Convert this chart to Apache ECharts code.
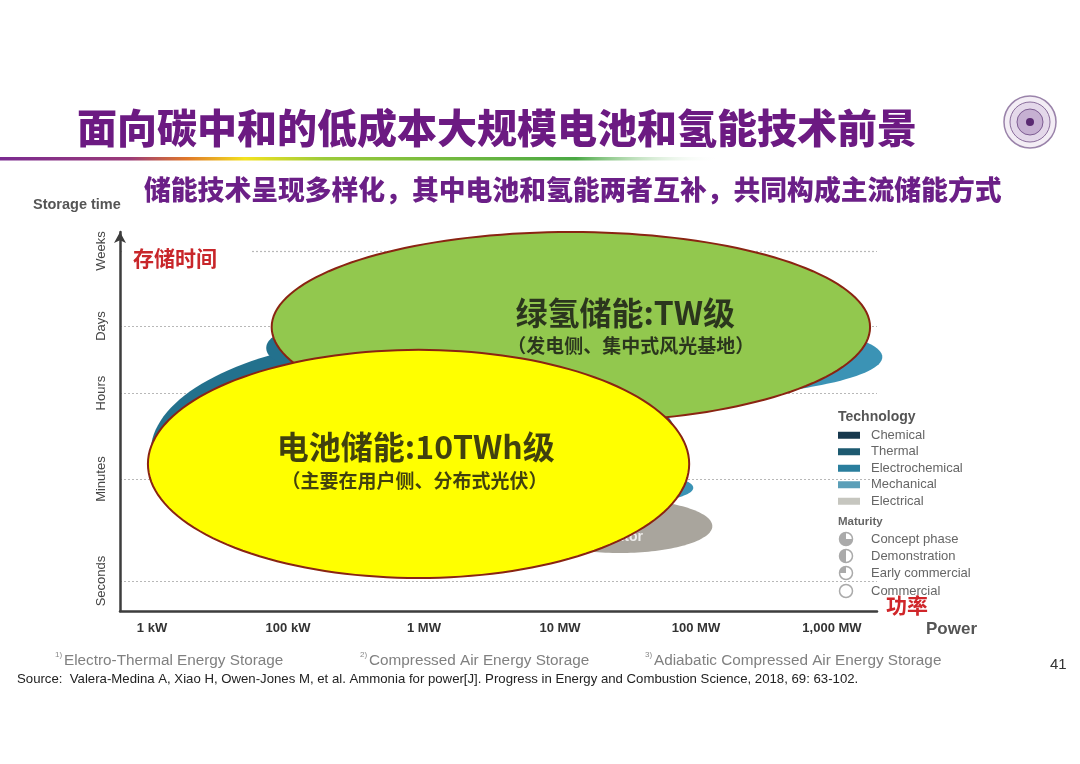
<!DOCTYPE html>
<html>
<head>
<meta charset="utf-8">
<script src="https://cdn.jsdelivr.net/npm/echarts@6/dist/echarts.min.js"></script>
<style>
html,body{margin:0;padding:0;background:#fff;}
#chart{width:1080px;height:764px;}
</style>
</head>
<body>
<div id="chart"></div>
<script>
// ---------- data (axis units: x = power step index, y = storage-time index) ----------
const xTickLabels = ['1 kW', '100 kW', '1 MW', '10 MW', '100 MW', '1,000 MW'];
const xTickValues = [0, 1, 2, 3, 4, 5];
const yTickLabels = ['Seconds', 'Minutes', 'Hours', 'Days', 'Weeks'];
const yTickValues = [7.9, 34.8, 57.5, 75.2, 95.0];

// ellipses: [centerX, centerY, radiusX, radiusY]
const electrochemicalAreas = [[1.94, 41.9, 1.95, 30.6], [1.02, 69.4, 0.18, 4.2]];
const mechanicalAreas = [[3.29, 67.0, 2.08, 11.9], [3.44, 32.5, 0.54, 4.2]];
const electricalAreas = [[3.44, 22.4, 0.68, 7.1]];
const chemicalAreas = [];
const thermalAreas = [];
const hydrogenArea = [[3.08, 74.9, 2.20, 25.1]];
const batteryArea = [[1.96, 38.8, 1.99, 30.1]];

const technologyNames = ['Chemical', 'Thermal', 'Electrochemical', 'Mechanical', 'Electrical'];
const maturityNames = ['Concept phase', 'Demonstration', 'Early commercial', 'Commercial'];

const highlightTexts = ['绿氢储能:TW级', '（发电侧、集中式风光基地）', '电池储能:10TWh级', '（主要在用户侧、分布式光伏）'];
const highlightTextPos = [[3.48, 78.6], [3.52, 69.9], [1.94, 43.3], [1.93, 34.3]];
const hiddenTexts = ['Capacitor'];
const hiddenTextPos = [[3.61, 19.5]];

const footnotes = ['Electro-Thermal Energy Storage', 'Compressed Air Energy Storage', 'Adiabatic Compressed Air Energy Storage'];
const sourceText = 'Source:  Valera-Medina A, Xiao H, Owen-Jones M, et al. Ammonia for power[J]. Progress in Energy and Combustion Science, 2018, 69: 63-102.';

// ---------- rendering ----------
const techColors = {
  Chemical: '#17384d', Thermal: '#1d5a70', Electrochemical: '#23718d',
  Mechanical: '#3b93b5', Electrical: '#a9a59d'
};
const legendColors = {
  Chemical: '#17384d', Thermal: '#1d5a70', Electrochemical: '#2a7e9d',
  Mechanical: '#5b9fb8', Electrical: '#c6c6bf'
};

function ellipseRender(params, api) {
  const c = api.coord([api.value(0), api.value(1)]);
  const s = api.size([api.value(2), api.value(3)]);
  const pts = [];
  const n = 160;
  for (let k = 0; k < n; k++) {
    const t = k / n * Math.PI * 2;
    pts.push([c[0] + s[0] * Math.cos(t), c[1] + s[1] * Math.sin(t)]);
  }
  return { type: 'polygon', shape: { points: pts }, style: api.style() };
}

function ellipseSeries(name, data, color, z, border) {
  const s = {
    name: name, type: 'custom', renderItem: ellipseRender, data: data, z: z,
    encode: { x: 0, y: 1 }, silent: true,
    itemStyle: { color: color }
  };
  if (border) { s.itemStyle.borderColor = border; s.itemStyle.borderWidth = 2; }
  return s;
}

const cjk = '"Noto Sans CJK SC", sans-serif';
const latin = '"Liberation Sans", Arial, sans-serif';
const chart = echarts.init(document.getElementById('chart'));

const maturityGraphics = [];
const matY = [539, 556, 573, 591];
const matSectors = [[0, Math.PI * 1.5], [Math.PI * 0.5, Math.PI * 1.5], [Math.PI, Math.PI * 1.5], null];
maturityNames.forEach((m, i) => {
  maturityGraphics.push({ type: 'circle', shape: { cx: 846, cy: matY[i], r: 6.5 }, style: { fill: '#fff', stroke: '#aaa', lineWidth: 1.5 }, z: 20 });
  if (matSectors[i]) {
    maturityGraphics.push({ type: 'sector', shape: { cx: 846, cy: matY[i], r: 6.5, r0: 0, startAngle: matSectors[i][0], endAngle: matSectors[i][1], clockwise: true }, style: { fill: '#aaa' }, z: 21 });
  }
  maturityGraphics.push({ type: 'text', x: 871, y: matY[i], style: { text: m, font: '13px ' + latin, fill: '#666', verticalAlign: 'middle' }, z: 20 });
});

const footX = [55, 360, 645];
const footGraphics = [];
footnotes.forEach((f, i) => {
  footGraphics.push({ type: 'text', x: footX[i], y: 655, style: { text: (i + 1) + ')', font: '8px ' + latin, fill: '#888', verticalAlign: 'middle' } });
  footGraphics.push({ type: 'text', x: footX[i] + 9, y: 661, style: { text: f, font: '15.3px ' + latin, fill: '#808080', verticalAlign: 'middle' } });
});

const option = {
  animation: false,
  backgroundColor: '#fff',
  title: [
    { text: '面向碳中和的低成本大规模电池和氢能技术前景', left: 72, top: 103,
      textStyle: { fontFamily: cjk, fontSize: 40, fontWeight: 900, color: '#6c1a82' } },
    { text: '储能技术呈现多样化，其中电池和氢能两者互补，共同构成主流储能方式', left: 139, top: 171,
      textStyle: { fontFamily: cjk, fontSize: 26.8, fontWeight: 900, color: '#6b1f87' } }
  ],
  grid: { left: 120, right: 203, top: 232, bottom: 153 },
  xAxis: {
    type: 'value', min: -0.2353, max: 5.331,
    axisLine: { show: true, onZero: false, lineStyle: { color: '#3d3d3d', width: 2.5 } },
    axisTick: { show: false, customValues: xTickValues },
    splitLine: { show: false },
    axisLabel: {
      customValues: xTickValues, margin: 11,
      formatter: v => xTickLabels[xTickValues.indexOf(v)] || '',
      fontFamily: latin, fontWeight: 'bold', fontSize: 13, color: '#333'
    }
  },
  yAxis: {
    type: 'value', min: 0, max: 100,
    axisLine: { show: true, onZero: false, symbol: ['none', 'arrow'], symbolSize: [9, 11], lineStyle: { color: '#3d3d3d', width: 2.5 } },
    axisTick: { show: false, customValues: yTickValues },
    splitLine: { show: true, lineStyle: { color: '#b8b8b8', width: 1.2, type: [2, 2] } },
    axisLabel: {
      customValues: yTickValues, rotate: 90, margin: 12,
      formatter: v => yTickLabels[yTickValues.indexOf(v)] || '',
      fontFamily: latin, fontSize: 13, color: '#444'
    }
  },
  legend: {
    data: technologyNames.map(n => ({ name: n, itemStyle: { color: legendColors[n] } })),
    orient: 'vertical', left: 838, top: 428, icon: 'rect', padding: 0,
    itemWidth: 22, itemHeight: 7, itemGap: 2, selectedMode: false,
    textStyle: { fontFamily: latin, fontSize: 13, color: '#666', lineHeight: 14.5, padding: [0, 0, 0, 6] }
  },
  series: [
    ellipseSeries('Chemical', chemicalAreas, techColors.Chemical, 2),
    ellipseSeries('Thermal', thermalAreas, techColors.Thermal, 2),
    ellipseSeries('Mechanical', mechanicalAreas, techColors.Mechanical, 2),
    ellipseSeries('Electrochemical', electrochemicalAreas, techColors.Electrochemical, 2.5),
    ellipseSeries('Electrical', electricalAreas, techColors.Electrical, 2),
    {
      name: 'hiddenText', type: 'scatter', z: 2.2, symbolSize: 0, silent: true,
      data: hiddenTextPos.map((p, i) => ({ value: p, name: hiddenTexts[i] })),
      label: { show: true, formatter: '{b}', position: 'left', distance: 0, color: '#fff', fontFamily: latin, fontWeight: 'bold', fontSize: 14 }
    },
    ellipseSeries('绿氢储能', hydrogenArea, '#92c84e', 3, '#8a2412'),
    ellipseSeries('电池储能', batteryArea, '#ffff00', 4, '#8a2412'),
    {
      name: 'labels', type: 'scatter', z: 10, symbolSize: 0, silent: true,
      data: highlightTextPos.map((p, i) => ({
        value: p, name: highlightTexts[i],
        label: { fontSize: i % 2 === 0 ? 32 : 19 }
      })),
      label: { show: true, formatter: '{b}', position: 'inside', color: '#111', fontFamily: cjk, fontWeight: 'bold' }
    }
  ],
  graphic: [
    { type: 'rect', shape: { x: 0, y: 157, width: 720, height: 3.5 },
      style: { fill: new echarts.graphic.LinearGradient(0, 0, 1, 0, [
        { offset: 0, color: '#7a2b90' }, { offset: 0.18, color: '#9b3a78' }, { offset: 0.26, color: '#e0782a' },
        { offset: 0.34, color: '#f3e21f' }, { offset: 0.45, color: '#9ccb3a' }, { offset: 0.8, color: '#4aa844' },
        { offset: 1, color: 'rgba(255,255,255,0)' }]) } },
    // logo
    { type: 'circle', shape: { cx: 1030, cy: 122, r: 26 }, style: { fill: '#f3edf5', stroke: '#9a83aa', lineWidth: 1.5 } },
    { type: 'circle', shape: { cx: 1030, cy: 122, r: 20 }, style: { fill: '#e4d8ea', stroke: '#8a6d9c', lineWidth: 1 } },
    { type: 'circle', shape: { cx: 1030, cy: 122, r: 13 }, style: { fill: '#c6b0d2', stroke: '#7d5c92', lineWidth: 1 } },
    { type: 'circle', shape: { cx: 1030, cy: 122, r: 4 }, style: { fill: '#5a2a72' } },
    { type: 'text', x: 33, y: 205, style: { text: 'Storage time', font: 'bold 14.5px ' + latin, fill: '#555', verticalAlign: 'middle' } },
    { type: 'text', x: 122, y: 258, z: 5, style: { text: '存储时间', font: 'bold 21px ' + cjk, fill: '#c8262a', verticalAlign: 'middle', backgroundColor: '#fff', padding: [2, 33, 2, 11] } },
    { type: 'text', x: 886, y: 605, style: { text: '功率', font: 'bold 21px ' + cjk, fill: '#d0262a', verticalAlign: 'middle' } },
    { type: 'text', x: 926, y: 629, style: { text: 'Power', font: 'bold 17px ' + latin, fill: '#555', verticalAlign: 'middle' } },
    { type: 'text', x: 838, y: 417, style: { text: 'Technology', font: 'bold 14px ' + latin, fill: '#555', verticalAlign: 'middle' } },
    { type: 'text', x: 838, y: 522, style: { text: 'Maturity', font: 'bold 11.5px ' + latin, fill: '#666', verticalAlign: 'middle' } },
    ...maturityGraphics,
    ...footGraphics,
    { type: 'text', x: 17, y: 679, style: { text: sourceText, font: '13.2px ' + latin, fill: '#222', verticalAlign: 'middle' } },
    { type: 'text', x: 1050, y: 665, style: { text: '41', font: '15px ' + latin, fill: '#333', verticalAlign: 'middle' } }
  ]
};
chart.setOption(option);
</script>
</body>
</html>
